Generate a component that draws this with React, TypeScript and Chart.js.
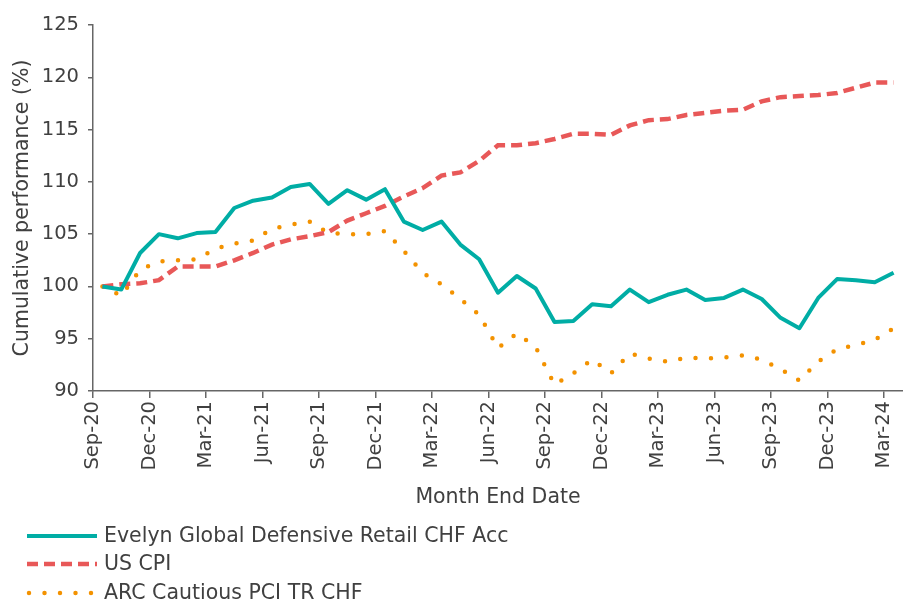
import React, { useEffect, useRef } from "react";
import { Chart, registerables } from "chart.js";
Chart.register(...registerables);

const months = [
  "Sep-20","Oct-20","Nov-20","Dec-20","Jan-21","Feb-21","Mar-21","Apr-21","May-21","Jun-21","Jul-21","Aug-21",
  "Sep-21","Oct-21","Nov-21","Dec-21","Jan-22","Feb-22","Mar-22","Apr-22","May-22","Jun-22","Jul-22","Aug-22",
  "Sep-22","Oct-22","Nov-22","Dec-22","Jan-23","Feb-23","Mar-23","Apr-23","May-23","Jun-23","Jul-23","Aug-23",
  "Sep-23","Oct-23","Nov-23","Dec-23","Jan-24","Feb-24","Mar-24",
];

const evelyn = [
  100.0, 99.7, 103.2, 105.0, 104.6, 105.1, 105.2, 107.5, 108.2, 108.5, 109.5, 109.8,
  107.9, 109.2, 108.3, 109.3, 106.2, 105.4, 106.2, 104.0, 102.6, 99.4, 101.0, 99.8,
  96.6, 96.7, 98.3, 98.1, 99.7, 98.5, 99.2, 99.7, 98.7, 98.9, 99.7, 98.8,
  97.0, 96.0, 98.9, 100.7, 100.6, 100.4, 101.3,
];

const usCpi = [
  100.0, 100.2, 100.3, 100.6, 101.9, 101.9, 101.9, 102.5, 103.2, 104.0, 104.5, 104.8,
  105.2, 106.3, 107.0, 107.7, 108.6, 109.4, 110.6, 110.9, 112.0, 113.5, 113.5, 113.7,
  114.1, 114.6, 114.6, 114.5, 115.4, 115.9, 116.0, 116.4, 116.6, 116.8, 116.9, 117.7,
  118.1, 118.2, 118.3, 118.5, 119.0, 119.5, 119.5,
];

const arc = [
  100.0, 99.1, 101.6, 102.4, 102.5, 102.6, 103.6, 104.1, 104.4, 105.5, 105.9, 106.2,
  105.1, 105.0, 105.0, 105.3, 103.4, 101.3, 100.2, 98.8, 97.3, 94.1, 95.5, 94.2,
  90.6, 91.7, 93.0, 91.7, 93.6, 93.1, 92.8, 93.2, 93.1, 93.2, 93.4, 93.0,
  92.1, 91.0, 92.8, 94.0, 94.4, 94.9, 96.0,
];

const tickLabels = ["Sep-20","Dec-20","Mar-21","Jun-21","Sep-21","Dec-21","Mar-22","Jun-22","Sep-22","Dec-22","Mar-23","Jun-23","Sep-23","Dec-23","Mar-24"];

const seriesNames = ["Evelyn Global Defensive Retail CHF Acc", "US CPI", "ARC Cautious PCI TR CHF"];
const yTicks = [90, 95, 100, 105, 110, 115, 120, 125];

const TEAL = "#00ADA5";
const RED = "#E85858";
const ORANGE = "#F39200";
const TEXT = "#404040";
const AXIS = "#666666";
const FONT = "'DejaVu Sans', sans-serif";

const toPoints = (arr: number[]) => arr.map((v, i) => ({ x: i + 0.5, y: v }));

const legendPlugin = {
  id: "stackedLegend",
  afterDraw(chart: any) {
    const ctx = chart.ctx;
    const ds = chart.data.datasets;
    const rows = [536, 564, 593];
    ctx.save();
    ds.forEach((d: any, i: number) => {
      const y = rows[i];
      ctx.beginPath();
      ctx.strokeStyle = d.borderColor;
      ctx.lineWidth = d.borderWidth;
      ctx.lineCap = d.borderCapStyle || "butt";
      ctx.setLineDash(d.borderDash || []);
      ctx.moveTo(i === 2 ? 29 : 27, y);
      ctx.lineTo(97, y);
      ctx.stroke();
      ctx.setLineDash([]);
      ctx.fillStyle = TEXT;
      ctx.font = `20.5px ${FONT}`;
      ctx.textBaseline = "middle";
      ctx.textAlign = "left";
      ctx.fillText(d.label, 104, y + 1);
    });
    ctx.restore();
  },
};

export default function App() {
  const ref = useRef<HTMLCanvasElement | null>(null);
  useEffect(() => {
    if (!ref.current) return;
    const chart = new Chart(ref.current, {
      type: "line",
      data: {
        datasets: [
          {
            label: seriesNames[0],
            data: toPoints(evelyn),
            borderColor: TEAL,
            backgroundColor: TEAL,
            borderWidth: 4,
            pointRadius: 0,
            tension: 0,
            borderJoinStyle: "round",
          },
          {
            label: seriesNames[1],
            data: toPoints(usCpi),
            borderColor: RED,
            backgroundColor: RED,
            borderWidth: 4.5,
            borderDash: [11, 6],
            pointRadius: 0,
            tension: 0,
          },
          {
            label: seriesNames[2],
            data: toPoints(arc),
            borderColor: ORANGE,
            backgroundColor: ORANGE,
            borderWidth: 4.5,
            borderDash: [0, 15.5],
            borderCapStyle: "round",
            pointRadius: 0,
            tension: 0,
          },
        ],
      },
      options: {
        responsive: false,
        animation: false,
        layout: { padding: { top: 25, right: 0, bottom: 92, left: 0 } },
        plugins: { legend: { display: false }, tooltip: { enabled: false } },
        scales: {
          x: {
            type: "linear",
            min: 0,
            max: 43,
            afterBuildTicks: (scale: any) => {
              scale.ticks = tickLabels.map((_, i) => ({ value: i * 3 }));
            },
            afterFit: (scale: any) => {
              scale.height = 121;
              scale.paddingLeft = 0;
              scale.paddingRight = 0;
            },
            ticks: {
              autoSkip: false,
              maxRotation: 90,
              minRotation: 90,
              padding: 3,
              color: TEXT,
              font: { family: FONT, size: 19.5 },
              callback: (v: any) => tickLabels[Math.round(Number(v) / 3)] ?? "",
            },
            grid: { drawOnChartArea: false, drawTicks: true, tickLength: 7, color: AXIS, lineWidth: 1.5 },
            border: { display: true, color: AXIS, width: 1.5 },
            title: {
              display: true,
              text: "Month End Date",
              color: TEXT,
              font: { family: FONT, size: 20.5 },
              padding: { top: 4, bottom: 2 },
            },
          },
          y: {
            type: "linear",
            min: 90,
            max: 125,
            afterBuildTicks: (scale: any) => {
              scale.ticks = yTicks.map((v) => ({ value: v }));
            },
            afterFit: (scale: any) => {
              scale.width = 93;
              scale.paddingTop = 0;
              scale.paddingBottom = 0;
            },
            ticks: {
              padding: 9,
              color: TEXT,
              font: { family: FONT, size: 19.5 },
            },
            grid: { drawOnChartArea: false, drawTicks: true, tickLength: 5, color: AXIS, lineWidth: 1.5 },
            border: { display: true, color: AXIS, width: 1.5 },
            title: {
              display: true,
              text: "Cumulative performance (%)",
              color: TEXT,
              font: { family: FONT, size: 20.5 },
              padding: { top: 10, bottom: 4 },
            },
          },
        },
      },
      plugins: [legendPlugin],
    } as any);
    return () => chart.destroy();
  }, []);
  return (
    <div style={{ position: "fixed", left: 0, top: 0, width: 903, height: 604, background: "#fff" }}>
      <canvas ref={ref} width={903} height={604} style={{ display: "block" }} />
    </div>
  );
}
